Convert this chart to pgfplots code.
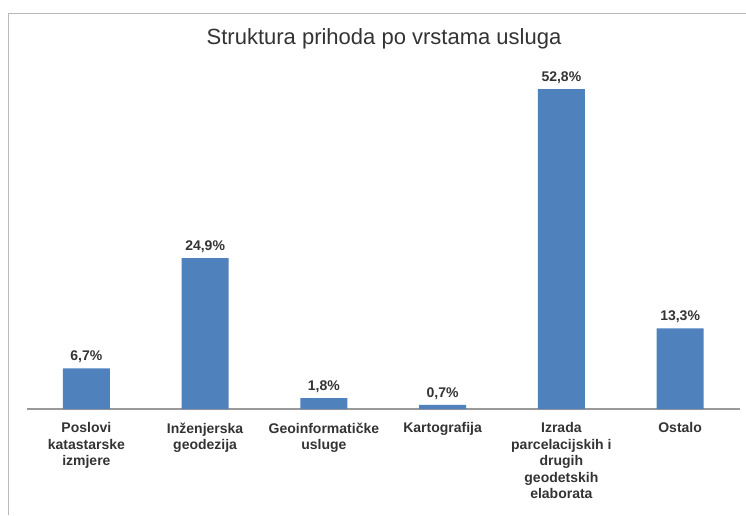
\documentclass[border=0pt]{standalone}
\usepackage{pgfplots}
\pgfplotsset{compat=1.18}
\usepackage{fontspec}
\setmainfont{Liberation Sans}
\definecolor{barblue}{HTML}{4F81BD}
\definecolor{txt}{HTML}{333333}
\begin{document}
\begin{tikzpicture}[x=1pt,y=1pt]
\path[use as bounding box] (0,0) rectangle (746,515);
\draw[gray!55, line width=1pt] (8,0) -- (8,501) -- (746,501);
\node[font=\fontsize{22}{25}\selectfont, text=txt] at (384,476) {Struktura prihoda po vrstama usluga};
\begin{axis}[
  at={(27pt,106pt)}, anchor=south west,
  scale only axis,
  width=712.5pt, height=363.6pt,
  xmin=-0.5, xmax=5.5, ymin=0, ymax=60,
  axis x line*=bottom,
  axis y line=none,
  x axis line style={draw=gray!80, line width=1.5pt, -},
  xtick=data,
  xtick style={draw=none},
  xticklabels={{Poslovi\\katastarske\\izmjere},{Inženjerska\\geodezija},{Geoinformatičke\\usluge},{Kartografija},{Izrada\\parcelacijskih i\\drugih\\geodetskih\\elaborata},{Ostalo}},
  xticklabel style={align=center, font=\bfseries\fontsize{14}{16.5}\selectfont, text=txt, yshift=-6pt},
  ybar, bar width=47pt,
  nodes near coords={\pgfmathprintnumber[fixed,fixed zerofill,precision=1,use comma,assume math mode=true]{\pgfplotspointmeta}\%},
  every node near coord/.append style={font=\bfseries\fontsize{14}{16}\selectfont, text=txt, yshift=2pt},
  clip=false,
]
\addplot[fill=barblue, draw=none] coordinates {(0,6.7) (1,24.9) (2,1.8) (3,0.7) (4,52.8) (5,13.3)};
\end{axis}
\end{tikzpicture}
\end{document}
